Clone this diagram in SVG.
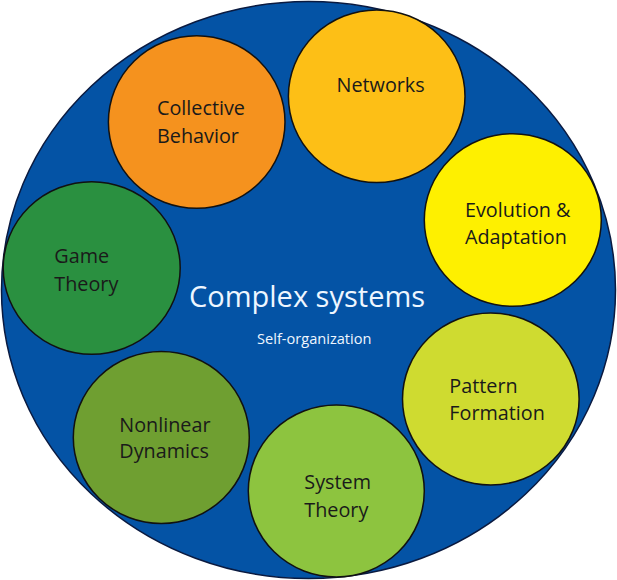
<svg xmlns="http://www.w3.org/2000/svg" width="617" height="580" viewBox="0 0 617 580">
<style>
.node{stroke:#111;stroke-width:1.5}
.lbl{font-family:"Open Sans","Noto Sans",sans-serif;font-size:19.8px;fill:#1a1a1a}
.ctr{font-family:"Open Sans","Noto Sans",sans-serif;fill:#eef6ff}
</style>
<rect width="617" height="580" fill="#ffffff"/>
<g id="complex-systems">
<ellipse cx="308.5" cy="290" rx="307" ry="288.5" fill="#0453A5" stroke="#0a1a40" stroke-width="1.5"/>
<text class="ctr" x="189" y="307" font-size="29">Complex systems</text>
<text class="ctr" x="257" y="344" font-size="14.6">Self-organization</text>
</g>
<g id="collective-behavior">
<ellipse class="node" cx="196.7" cy="122" rx="88.3" ry="86.3" fill="#F5921E"/>
<text class="lbl" x="157" y="115">Collective</text>
<text class="lbl" x="157" y="142.5">Behavior</text>
</g>
<g id="networks">
<ellipse class="node" cx="376.7" cy="96.3" rx="88.3" ry="86.3" fill="#FDBF16"/>
<text class="lbl" x="336.5" y="91.5">Networks</text>
</g>
<g id="evolution-adaptation">
<ellipse class="node" cx="512.8" cy="220" rx="88.5" ry="86.3" fill="#FEF000"/>
<text class="lbl" x="465" y="217.3">Evolution &amp;</text>
<text class="lbl" x="465" y="244.3">Adaptation</text>
</g>
<g id="game-theory">
<ellipse class="node" cx="91.7" cy="268" rx="88.5" ry="86.3" fill="#2A9040"/>
<text class="lbl" x="54.3" y="263.3">Game</text>
<text class="lbl" x="54.3" y="290.7">Theory</text>
</g>
<g id="nonlinear-dynamics">
<ellipse class="node" cx="161.3" cy="437.5" rx="88" ry="86" fill="#6F9F31"/>
<text class="lbl" x="119.3" y="431.7">Nonlinear</text>
<text class="lbl" x="119.3" y="458.3">Dynamics</text>
</g>
<g id="system-theory">
<ellipse class="node" cx="336.3" cy="491" rx="88" ry="86" fill="#8DC43F"/>
<text class="lbl" x="304.3" y="489.3">System</text>
<text class="lbl" x="304.3" y="516.7">Theory</text>
</g>
<g id="pattern-formation">
<ellipse class="node" cx="490.8" cy="399" rx="88.3" ry="86" fill="#CFDB30"/>
<text class="lbl" x="449.3" y="392.7">Pattern</text>
<text class="lbl" x="449.3" y="420">Formation</text>
</g>
<g id="connectors"></g>
</svg>
